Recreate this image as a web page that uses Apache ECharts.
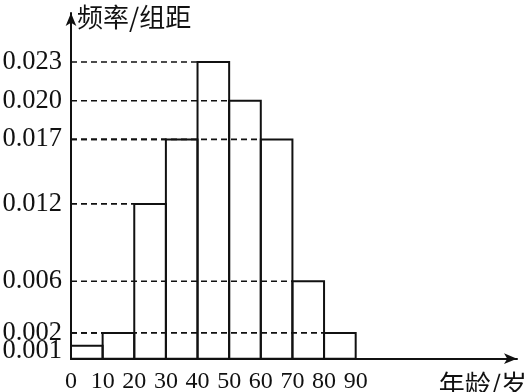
<!DOCTYPE html>
<html>
<head>
<meta charset="utf-8">
<script src="https://cdn.jsdelivr.net/npm/echarts@6/dist/echarts.min.js"></script>
<style>
html,body{margin:0;padding:0;background:#fff;}
#chart{width:524px;height:392px;}
</style>
</head>
<body>
<div id="chart"></div>
<script>
// Data
var binStarts = [0, 10, 20, 30, 40, 50, 60, 70, 80];
var binWidth = 10;
var freqPerWidth = [0.001, 0.002, 0.012, 0.017, 0.023, 0.020, 0.017, 0.006, 0.002];
var xTickLabels = ['0', '10', '20', '30', '40', '50', '60', '70', '80', '90'];
var yTickValues = [0.001, 0.002, 0.006, 0.012, 0.017, 0.020, 0.023];
var yTickLabels = ['0.001', '0.002', '0.006', '0.012', '0.017', '0.020', '0.023'];
var yAxisName = '频率/组距';
var xAxisName = '年龄/岁';

var seriesData = binStarts.map(function (s, i) { return [s, s + binWidth, freqPerWidth[i]]; });
var yLabelMap = {};
yTickValues.forEach(function (v, i) { yLabelMap[Math.round(v * 1000)] = yTickLabels[i]; });

var serif = '"Liberation Serif", "Times New Roman", serif';
var cjk = '"Noto Sans CJK SC", sans-serif';

var chart = echarts.init(document.getElementById('chart'), null, {renderer: 'canvas'});
chart.setOption({
  animation: false,
  backgroundColor: '#fff',
  grid: {left: 71, right: 7, top: 13, bottom: 33.3, containLabel: false, outerBoundsMode: 'none'},
  xAxis: {
    type: 'value', min: 0, max: 141, interval: 10,
    name: xAxisName, nameLocation: 'end', nameGap: 10,
    nameTextStyle: {fontFamily: cjk, fontSize: 26, color: '#111', align: 'right', verticalAlign: 'top', padding: [12, 0, 0, 0]},
    axisLine: {show: true, lineStyle: {color: '#111', width: 2}, symbol: ['none', 'arrow'], symbolSize: [8, 13]},
    axisTick: {show: false},
    splitLine: {show: false},
    axisLabel: {
      margin: 11, color: '#111', fontFamily: serif, fontSize: 24,
      formatter: function (v) { var k = Math.round(v / 10); return (k >= 0 && k < xTickLabels.length) ? xTickLabels[k] : ''; }
    }
  },
  yAxis: {
    type: 'value', min: 0, max: 0.0268, interval: 0.001,
    name: yAxisName, nameLocation: 'end', nameGap: -4,
    nameTextStyle: {fontFamily: cjk, fontSize: 26, color: '#111', align: 'left', verticalAlign: 'middle', padding: [0, 0, 0, 6]},
    axisLine: {show: true, lineStyle: {color: '#111', width: 2}, symbol: ['none', 'arrow'], symbolSize: [8, 13]},
    axisTick: {show: false},
    splitLine: {show: false},
    axisLabel: {
      margin: 9, color: '#111', fontFamily: serif, fontSize: 26.5,
      formatter: function (v) {
        var k = Math.round(v * 1000);
        var t = yLabelMap[k];
        if (!t) return '';
        if (k === 1) return '{low|' + t + '}';
        return t;
      },
      rich: {low: {fontFamily: serif, fontSize: 26.5, color: '#111', padding: [10, 0, 0, 0]}}
    }
  },
  series: [{
    type: 'custom',
    data: seriesData,
    encode: {x: [0, 1], y: 2},
    renderItem: function (params, api) {
      var x0 = api.value(0), x1 = api.value(1), v = api.value(2);
      var tl = api.coord([x0, v]);
      var br = api.coord([x1, 0]);
      var origin = api.coord([0, v]);
      var children = [];
      if (tl[0] - origin[0] > 1) {
        children.push({
          type: 'line',
          shape: {x1: origin[0], y1: tl[1], x2: tl[0], y2: tl[1]},
          style: {stroke: '#111', lineWidth: 1.6, lineDash: [6, 4], fill: null}
        });
      }
      children.push({
        type: 'rect',
        shape: {x: tl[0], y: tl[1], width: br[0] - tl[0], height: br[1] - tl[1]},
        style: {stroke: '#111', lineWidth: 2, fill: 'rgba(0,0,0,0)'}
      });
      return {type: 'group', children: children};
    }
  }]
});
</script>
</body>
</html>
